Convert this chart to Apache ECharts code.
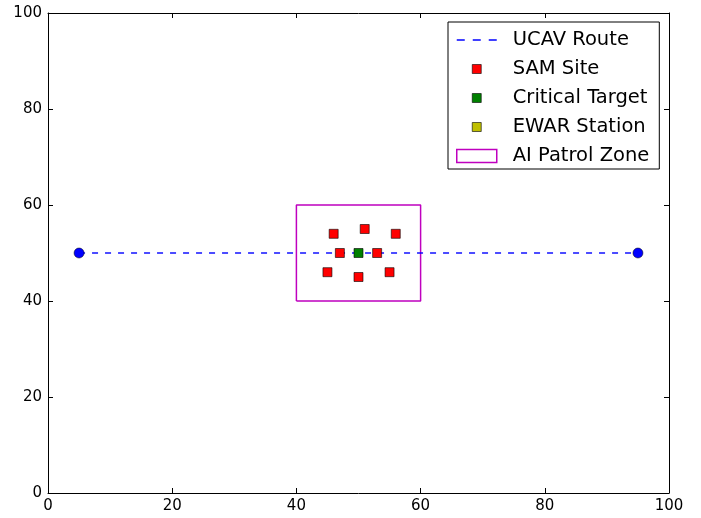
<!DOCTYPE html>
<html>
<head>
<meta charset="utf-8">
<script src="https://cdn.jsdelivr.net/npm/echarts@6/dist/echarts.min.js"></script>
<style>html,body{margin:0;padding:0;background:#fff}#c{width:701px;height:518px}</style>
</head>
<body>
<div id="c"></div>
<script>
var routeX = [5, 95];
var routeY = [50, 50];
var samX = [46, 51, 56, 47, 53, 45, 50, 55];
var samY = [54, 55, 54, 50, 50, 46, 45, 46];
var targetX = [50];
var targetY = [50];
var ewarX = [];
var ewarY = [];
var zoneX = [40, 60];
var zoneY = [40, 60];
var axisTicks = [0, 20, 40, 60, 80, 100];

function pairs(xs, ys) { return xs.map(function (x, i) { return [x, ys[i]]; }); }
var zonePoly = [[zoneX[0], zoneY[0]], [zoneX[1], zoneY[0]], [zoneX[1], zoneY[1]], [zoneX[0], zoneY[1]], [zoneX[0], zoneY[0]]];

var font = 'DejaVu Sans';
var sq = 'path://M0,0M40,14M15.5,2.5h9v9h-9z';
var dash = 'path://M0,0M40,14M0,6h8v2h-8zM16,6h8v2h-8zM32,6h8v2h-8z';
var zoneIcon = 'path://M0.75,0.75h38.5v12.5h-38.5z';

function axisBase(pos, show) {
  return {
    type: 'value', min: axisTicks[0], max: axisTicks[axisTicks.length - 1], interval: 20,
    position: pos,
    axisLine: { show: true, onZero: false, lineStyle: { color: '#000', width: 1 } },
    axisTick: { show: true, inside: true, length: 5, lineStyle: { color: '#000' } },
    axisLabel: { show: show, color: '#000', fontFamily: font, fontSize: 15, margin: 6 },
    splitLine: { show: false }
  };
}

var chart = echarts.init(document.getElementById('c'), null, { renderer: 'canvas' });
chart.setOption({
  animation: false,
  backgroundColor: '#fff',
  grid: { left: 48, right: 32, top: 13, bottom: 25, containLabel: false },
  xAxis: [axisBase('bottom', true), axisBase('top', false)],
  yAxis: [axisBase('left', true), axisBase('right', false)],
  legend: {
    left: 448, top: 22, orient: 'vertical',
    backgroundColor: '#fff', borderColor: '#000', borderWidth: 1, borderRadius: 0,
    padding: [8, 10, 3, 8], itemGap: 9, itemWidth: 40, itemHeight: 14,
    textStyle: { fontFamily: font, fontSize: 19.5, color: '#000', padding: [0, 0, 0, 11] },
    data: [
      { name: 'UCAV Route', icon: dash, itemStyle: { color: 'rgba(0,0,255,0.75)' } },
      { name: 'SAM Site', icon: sq, itemStyle: { color: '#ff0000', borderColor: '#000', borderWidth: 0.6, opacity: 1 } },
      { name: 'Critical Target', icon: sq, itemStyle: { color: '#008000', borderColor: '#000', borderWidth: 0.6, opacity: 1 } },
      { name: 'EWAR Station', icon: sq, itemStyle: { color: '#bfbf00', borderColor: '#000', borderWidth: 0.6, opacity: 1 } },
      { name: 'AI Patrol Zone', icon: zoneIcon, itemStyle: { color: '#fff', borderColor: '#bf00bf', borderWidth: 1.5 } }
    ]
  },
  series: [
    {
      name: 'AI Patrol Zone', type: 'line', data: zonePoly, symbol: 'none', z: 2,
      lineStyle: { color: '#bf00bf', width: 1.5 }, itemStyle: { color: '#bf00bf' }
    },
    {
      name: 'UCAV Route', type: 'line', data: pairs(routeX, routeY), symbol: 'none', z: 3,
      lineStyle: { color: 'rgba(0,0,255,0.7)', width: 2, type: [6, 7] }, itemStyle: { color: 'rgba(0,0,255,0.75)' }
    },
    {
      name: 'UCAV Route Points', type: 'scatter', data: pairs(routeX, routeY), symbol: 'circle', symbolSize: 10, z: 4,
      itemStyle: { color: '#0000ff', borderColor: '#000', borderWidth: 0.5, opacity: 1 }
    },
    {
      name: 'SAM Site', type: 'scatter', data: pairs(samX, samY), symbol: 'rect', symbolSize: 9, z: 5,
      itemStyle: { color: '#ff0000', borderColor: '#000', borderWidth: 0.6, opacity: 1 }
    },
    {
      name: 'EWAR Station', type: 'scatter', data: pairs(ewarX, ewarY), symbol: 'rect', symbolSize: 9, z: 5,
      itemStyle: { color: '#bfbf00', borderColor: '#000', borderWidth: 0.6, opacity: 1 }
    },
    {
      name: 'Critical Target', type: 'scatter', data: pairs(targetX, targetY), symbol: 'rect', symbolSize: 9, z: 6,
      itemStyle: { color: '#008000', borderColor: '#000', borderWidth: 0.6, opacity: 1 }
    }
  ]
});
</script>
</body>
</html>
